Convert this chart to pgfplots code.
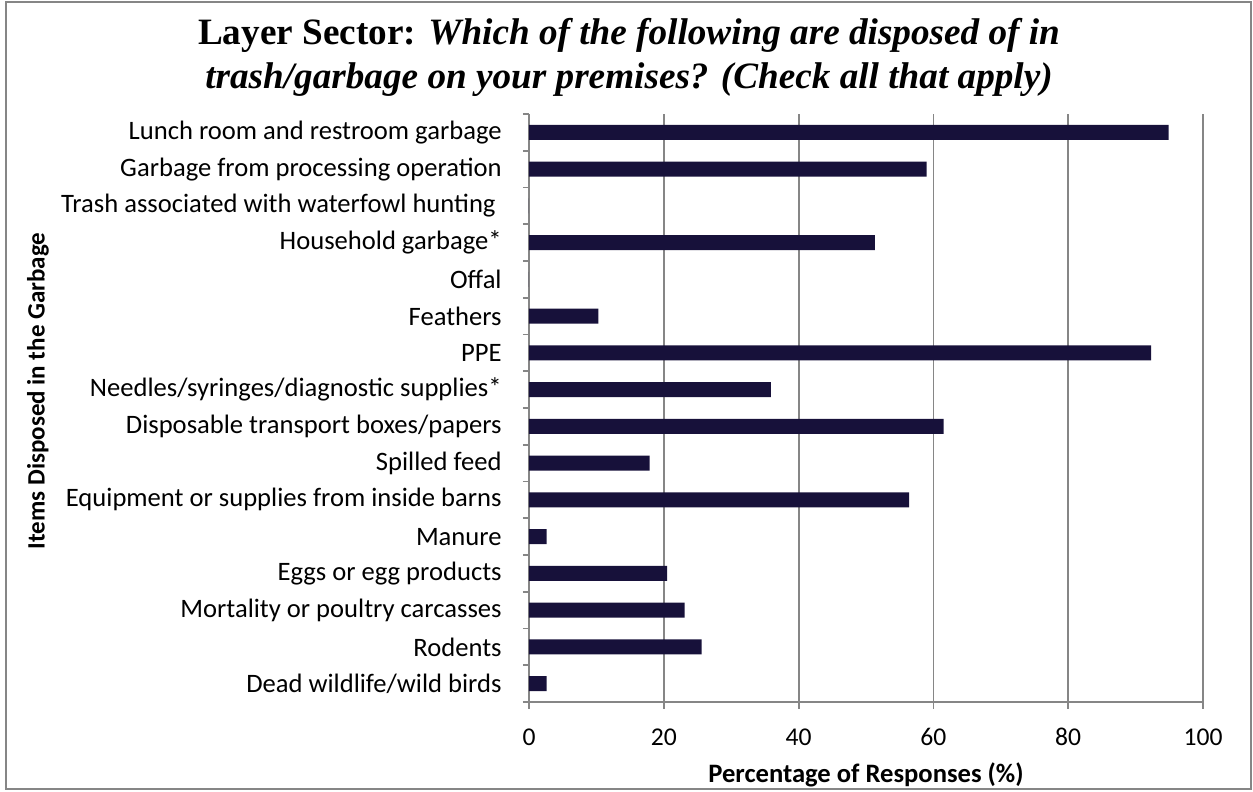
\documentclass[border=0pt]{standalone}
\usepackage{pgfplots}
\pgfplotsset{compat=1.18}
\usepackage{fontspec}
\setmainfont{Carlito}
\newfontfamily\titlefont{Liberation Serif}
\definecolor{barc}{HTML}{17113A}
\definecolor{gridc}{HTML}{868686}

\begin{document}
\begin{tikzpicture}[x=0.5pt,y=0.5pt]
\path[use as bounding box] (0,0) rectangle (1253,792);
\draw[gridc, line width=1pt] (6,2.5) rectangle (1251,789.5);
\node[font=\titlefont\fontsize{18.6}{22}\selectfont, align=center] at (629,735)
  {\textbf{Layer Sector:} \textbf{\textit{Which of the following are disposed of in}}\\
   \textbf{\textit{trash/garbage on your premises? (Check all that apply)}}};
\node[font=\fontsize{12.5}{14}\selectfont\bfseries, rotate=90] at (38,401) {Items Disposed in the Garbage};
\node[font=\fontsize{13.3}{15}\selectfont\bfseries] at (866,17) {Percentage of Responses (\%)};
\begin{axis}[
  at={(264.5pt,45pt)}, anchor=south west, scale only axis,
  width=337pt, height=294pt,
  xbar, bar width=7.5pt,
  xmin=0, xmax=100, ymin=-0.5, ymax=15.5,
  axis x line*=bottom, axis y line*=left,
  axis line style={gridc, line width=0.9pt, -},
  xtick={0,20,...,100},
  ytick={0,...,15},
  minor ytick={-0.5,0.5,...,15.5},
  yticklabels={Dead wildlife/wild birds, Rodents, Mortality or poultry carcasses, Eggs or egg products, Manure, Equipment or supplies from inside barns, Spilled feed, Disposable transport boxes/papers, Needles/syringes/diagnostic supplies*, PPE, Feathers, Offal, Household garbage*, {Trash associated with waterfowl hunting\hspace*{3pt}}, Garbage from processing operation, Lunch room and restroom garbage},
  xmajorgrids, major grid style={gridc, line width=0.9pt},
  tick style={gridc, line width=0.9pt},
  major y tick style={draw=none},
  tick align=outside,
  major tick length=3.5pt, minor tick length=3pt,
  /pgf/number format/assume math mode=true,
  ticklabel style={inner sep=0pt},
  yticklabel style={font=\fontsize{13.3}{15}\selectfont, xshift=-10pt},
  xticklabel style={font=\fontsize{12.8}{15}\selectfont, yshift=-9.5pt},
]
\addplot[fill=barc, draw=none] coordinates {
  (2.6,0) (25.6,1) (23.1,2) (20.5,3) (2.6,4) (56.4,5) (17.9,6) (61.5,7)
  (35.9,8) (92.3,9) (10.3,10) (0,11) (51.3,12) (0,13) (59.0,14) (94.9,15)
};
\end{axis}
\end{tikzpicture}
\end{document}
